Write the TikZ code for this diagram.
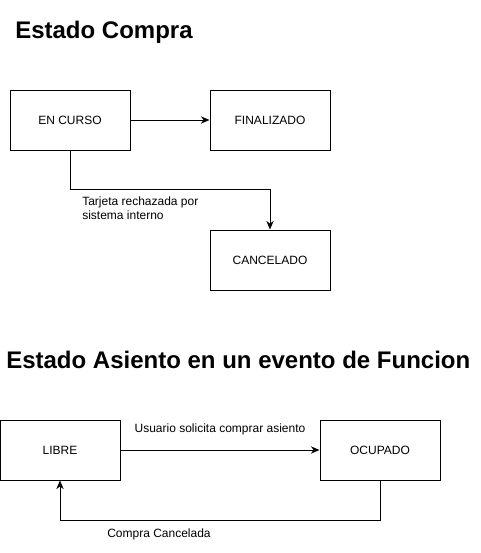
\documentclass[tikz,border=0pt]{standalone}
\usepackage{fontspec}
\setmainfont{Liberation Sans}
\usetikzlibrary{arrows.meta,positioning}
\tikzset{
  state/.style={draw,line width=0.75pt,minimum width=90pt,minimum height=45pt,inner sep=0pt,font=\fontsize{9}{11}\selectfont},
  trans/.style={-{Stealth[length=6.5pt,width=5.5pt]},line width=0.75pt},
  translabel/.style={font=\fontsize{9}{10}\selectfont,align=left,inner sep=0pt},
  heading/.style={font=\bfseries\fontsize{18}{21}\selectfont,anchor=base west,inner sep=0pt}
}
\begin{document}
\begin{tikzpicture}[x=0.75pt,y=-0.75pt]
\useasboundingbox (0,0) rectangle (481,553);
% estado compra
\node[heading] (compra) at (15,38) {Estado Compra};
\node[state] (encurso) at (70,120) {EN CURSO};
\node[state] (finalizado) at (270,120) {FINALIZADO};
\node[state] (cancelado) at (270,260) {CANCELADO};
\draw[trans] (encurso) -- (finalizado);
\draw[trans] (encurso.south) -- ++(0,39) -| (cancelado.north);
\node[translabel,anchor=north west] (rechazo) at (82,197) {Tarjeta rechazada por\\sistema interno};
% estado asiento
\node[heading] (asiento) at (6,368) {Estado Asiento en un evento de Funcion};
\node[state] (libre) at (60,450) {LIBRE};
\node[state] (ocupado) at (380,450) {OCUPADO};
\draw[trans] (libre) -- node[translabel,above=11pt] (solicita) {Usuario solicita comprar asiento} (ocupado);
\draw[trans] (ocupado.south) -- ++(0,40) -| (libre.south);
\node[translabel,anchor=west] (cancelada) at (107,534) {Compra Cancelada};
\end{tikzpicture}
\end{document}
